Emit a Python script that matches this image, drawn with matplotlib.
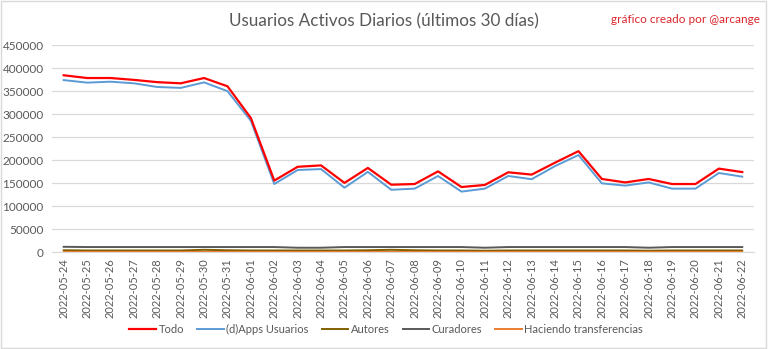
import matplotlib
matplotlib.use('Agg')
from matplotlib import pyplot
import numpy

pyplot.rcParams['font.family'] = ['Lato', 'DejaVu Sans']

dates = ['2022-05-24', '2022-05-25', '2022-05-26', '2022-05-27', '2022-05-28',
         '2022-05-29', '2022-05-30', '2022-05-31', '2022-06-01', '2022-06-02',
         '2022-06-03', '2022-06-04', '2022-06-05', '2022-06-06', '2022-06-07',
         '2022-06-08', '2022-06-09', '2022-06-10', '2022-06-11', '2022-06-12',
         '2022-06-13', '2022-06-14', '2022-06-15', '2022-06-16', '2022-06-17',
         '2022-06-18', '2022-06-19', '2022-06-20', '2022-06-21', '2022-06-22']

todo = [385000, 379000, 379000, 375000, 370000, 367500, 379000, 361000, 292000, 156000,
        186000, 189000, 151000, 183500, 147000, 148500, 176000, 142000, 146500, 174000,
        169000, 195000, 220000, 159500, 152000, 159500, 148500, 148500, 182000, 174500]
dapps = [374500, 369000, 371000, 367500, 359500, 357500, 369500, 350500, 286000, 148500,
         179000, 181000, 140500, 175000, 136000, 138500, 166000, 132000, 138500, 166000,
         159000, 187500, 211500, 150000, 145000, 152000, 138500, 138500, 172500, 164500]
autores = [4500, 4000, 4000, 4000, 4000, 4000, 5500, 4500, 4000, 4000,
           4000, 4000, 4000, 4500, 5500, 4500, 4000, 4000, 3500, 4000,
           4000, 4000, 4000, 4000, 4000, 3500, 4000, 4000, 4000, 4000]
curadores = [12000, 11500, 11500, 11500, 11500, 11500, 11500, 11500, 11500, 11500,
             10000, 10000, 11500, 11500, 11500, 11500, 11500, 11500, 10000, 11500,
             11500, 11500, 11500, 11500, 11500, 10000, 11500, 11500, 11500, 11500]
transfers = [1500, 1500, 1500, 1500, 1500, 1500, 1500, 1500, 1500, 1500,
             1500, 1500, 1500, 1500, 1500, 1500, 1500, 1500, 1500, 1500,
             1500, 1500, 1500, 1500, 1500, 1500, 1500, 1500, 1500, 1500]

text_color = '#595959'
fig = pyplot.figure(figsize=(7.68, 3.49), dpi=100)
ax = fig.add_axes([0.0677, 0.277, 0.914, 0.593])

x = numpy.arange(len(dates))
ax.plot(x, todo, color='#FF0000', linewidth=1.6, label='Todo', zorder=6)
ax.plot(x, dapps, color='#5B9BD5', linewidth=1.4, label='(d)Apps Usuarios', zorder=5)
ax.plot(x, autores, color='#7F6000', linewidth=1.4, label='Autores', zorder=3)
ax.plot(x, curadores, color='#595959', linewidth=1.4, label='Curadores', zorder=4)
ax.plot(x, transfers, color='#ED7D31', linewidth=1.4, label='Haciendo transferencias', zorder=4)

ax.set_xlim(-0.5, len(dates) - 0.5)
ax.set_ylim(0, 450000)
ax.set_yticks(numpy.arange(0, 450001, 50000))
ax.set_yticklabels([str(v) for v in range(0, 450001, 50000)])
ax.set_xticks(x)
ax.set_xticklabels(dates, rotation=90)
ax.tick_params(axis='both', length=0, colors=text_color, labelsize=8.5)
ax.tick_params(axis='x', pad=4, labelsize=8)
ax.tick_params(axis='y', pad=6)
ax.grid(axis='y', color='#D9D9D9', linewidth=0.9)
ax.set_axisbelow(True)
for side in ['top', 'right', 'left']:
    ax.spines[side].set_visible(False)
ax.spines['bottom'].set_color('#D9D9D9')

fig.text(0.5, 0.94, 'Usuarios Activos Diarios (últimos 30 días)', ha='center', va='center',
         fontsize=12.3, color=text_color)
fig.text(0.99, 0.945, 'gráfico creado por @arcange', ha='right', va='center',
         fontsize=8.5, color='#D9262B')

fig.legend(loc='center', bbox_to_anchor=(0.503, 0.057), ncol=5, frameon=False,
           fontsize=8, labelcolor=text_color, handlelength=2.4, handletextpad=0.2,
           columnspacing=1.2)

fig.patches.append(matplotlib.patches.Rectangle((0.001, 0.002), 0.997, 0.995,
                   transform=fig.transFigure, fill=False, edgecolor='#D9D9D9', linewidth=1))

fig.savefig('out.png', dpi=100)
